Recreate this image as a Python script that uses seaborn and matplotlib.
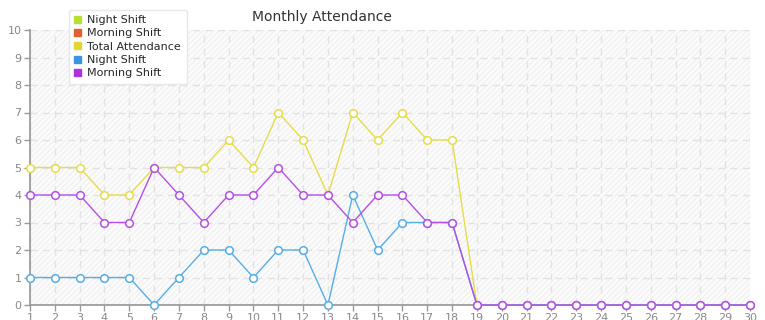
import matplotlib
matplotlib.use("Agg")
import matplotlib.pyplot as plt
import seaborn as sns
import pandas as pd
import numpy as np
from matplotlib.patches import Patch, Rectangle

days = list(range(1, 31))
total_attendance = [5, 5, 5, 4, 4, 5, 5, 5, 6, 5, 7, 6, 4, 7, 6, 7, 6, 6] + [0] * 12
night_shift = [1, 1, 1, 1, 1, 0, 1, 2, 2, 1, 2, 2, 0, 4, 2, 3, 3, 3] + [0] * 12
morning_shift = [4, 4, 4, 3, 3, 5, 4, 3, 4, 4, 5, 4, 4, 3, 4, 4, 3, 3] + [0] * 12

legend_labels = ["Night Shift", "Morning Shift", "Total Attendance", "Night Shift", "Morning Shift"]
legend_colors = ["#b8e030", "#e0622c", "#e2d632", "#3a94e0", "#b030e0"]

series = [
    ("Total Attendance", total_attendance, "#e6dc4a"),
    ("Night Shift", night_shift, "#55aee6"),
    ("Morning Shift", morning_shift, "#b44fe6"),
]

sns.set_theme(style="white")
plt.rcParams["font.family"] = ["DejaVu Sans"]
plt.rcParams["hatch.linewidth"] = 0.6

fig = plt.figure(figsize=(7.65, 3.2), dpi=100)
ax = fig.add_axes([30 / 765, 15 / 320, 720 / 765, 275 / 320])
ax.set_facecolor("#fbfbfb")
bg = Rectangle((0, 0), 1, 1, transform=ax.transAxes, facecolor="#fbfbfb",
               edgecolor="#ececec", hatch="//////", linewidth=0, zorder=0)
ax.add_patch(bg)

for name, vals, col in series:
    df = pd.DataFrame({"day": days, "value": vals})
    sns.lineplot(data=df, x="day", y="value", ax=ax, color=col, linewidth=1,
                 marker="o", markersize=5.5, markerfacecolor="white",
                 markeredgecolor=col, markeredgewidth=1.1, zorder=3, clip_on=False)

ax.set_xlim(1, 30)
ax.set_ylim(0, 10)
ax.set_xticks(days)
ax.set_yticks(range(0, 11))
ax.set_xlabel("")
ax.set_ylabel("")
ax.grid(True, color="#e2e2e2", linestyle=(0, (5, 4)), linewidth=1)
ax.set_axisbelow(True)
for s in ["top", "right"]:
    ax.spines[s].set_visible(False)
ax.spines["left"].set_color("#999999")
ax.spines["bottom"].set_color("#999999")
ax.tick_params(axis="both", colors="#999999", labelsize=8, length=4, width=1,
               direction="out", left=True, bottom=True, labelcolor="#888888", pad=2)

fig.text(322 / 765, 1 - 17 / 320, "Monthly Attendance", ha="center", va="center",
         fontsize=10, color="#333333")

handles = [Patch(facecolor=c, edgecolor=c) for c in legend_colors]
leg = fig.legend(handles, legend_labels, loc="upper left",
                 bbox_to_anchor=(63 / 765, 1 - 4 / 320), frameon=True, fontsize=8,
                 handlelength=0.6, handleheight=0.6, handletextpad=0.6,
                 labelspacing=0.3, borderpad=0.5, fancybox=True, shadow=False)
leg.get_frame().set_edgecolor("#e8e8e8")
leg.get_frame().set_facecolor("white")
leg.get_frame().set_alpha(1)

fig.savefig("out.png", dpi=100)
